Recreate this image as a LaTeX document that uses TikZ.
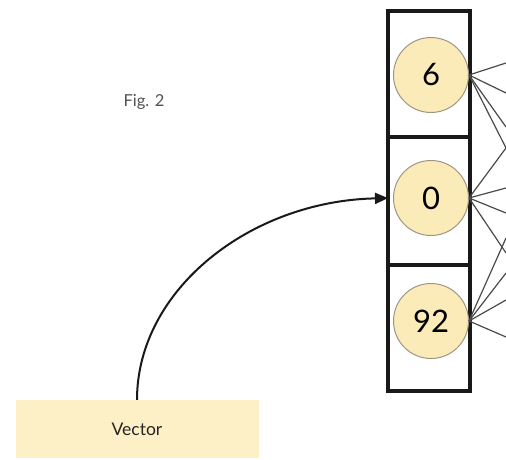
\documentclass[tikz,border=0pt]{standalone}
\usepackage{fontspec}
\setmainfont{Lato}
\usetikzlibrary{arrows.meta}
\definecolor{cellfill}{HTML}{FBEBB8}
\definecolor{celldraw}{HTML}{9E9684}
\definecolor{vecfill}{HTML}{FDEFC6}
\definecolor{wire}{HTML}{4A4A4A}
\tikzset{
  cell/.style={circle, draw=celldraw, line width=1pt, fill=cellfill, minimum size=75pt, inner sep=0pt, font=\fontsize{31}{32}\selectfont},
  slot/.style={draw=black!90, line width=3.2pt},
  wireline/.style={draw=wire, line width=1.2pt},
  vecbox/.style={fill=vecfill, minimum width=243pt, minimum height=58pt, inner sep=0pt, font=\fontsize{17.5}{19}\selectfont, text=black!85},
  figlabel/.style={font=\fontsize{16.5}{18}\selectfont, text=black!68},
  pointer/.style={draw=black!90, line width=2pt, -{Triangle[length=13pt, width=11pt]}}
}
\begin{document}
\begin{tikzpicture}[x=1pt, y=-1pt]
\useasboundingbox (0,0) rectangle (506,460);
% cells
\draw[slot] (388,11) rectangle (470,391);
\draw[slot] (388,137) -- (470,137);
\draw[slot] (388,265) -- (470,265);
\node[cell] (n6) at (431,75) {6};
\node[cell] (n0) at (431,198) {0};
\node[cell] (n92) at (431,321) {92};
% fan-out wires
\foreach \y [count=\i] in {63,93,127,148,188,213,238,253,273,300,337}
  \coordinate (h\i) at (506,\y);
\foreach \j in {1,2,3,4} \draw[wireline] (n6.east) -- (h\j);
\foreach \j in {4,5,6,8} \draw[wireline] (n0.east) -- (h\j);
\foreach \j in {7,9,10,11} \draw[wireline] (n92.east) -- (h\j);
% label
\node[figlabel] (fig) at (144,102) {Fig. 2};
% vector
\node[vecbox] (vec) at (137,429) {Vector};
\draw[pointer, shorten >=5pt] (vec.north) .. controls (137,290) and (250,201) .. (n0.west);
\end{tikzpicture}
\end{document}
